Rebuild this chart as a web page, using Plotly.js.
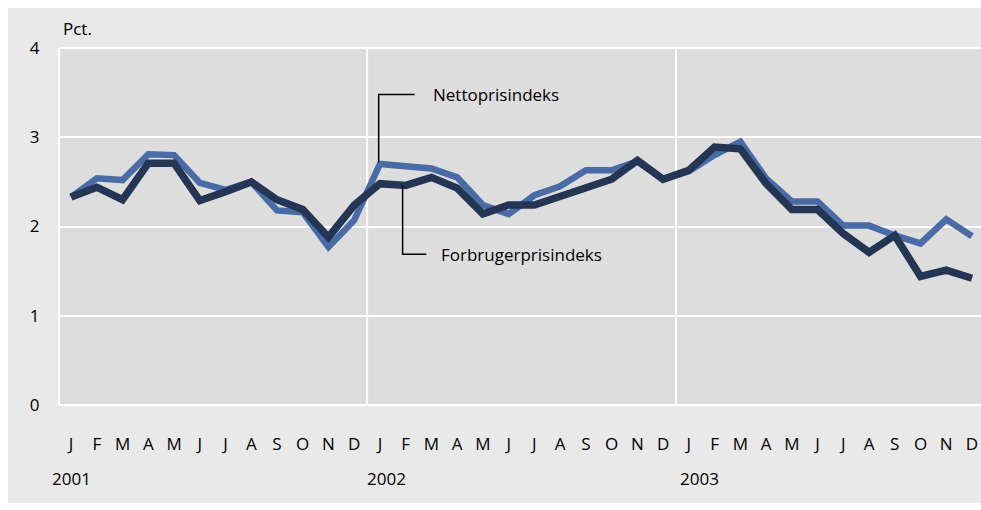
<!DOCTYPE html>
<html><head><meta charset="utf-8">
<script src="https://cdn.plot.ly/plotly-3.0.1.min.js"></script>
<style>html,body{margin:0;padding:0;background:#fff;}#chart{width:981px;height:510px;}</style>
</head><body><div id="chart"></div>
<script>
const months = ["J","F","M","A","M","J","J","A","S","O","N","D"];
const years = ["2001","2002","2003"];
const nettoprisindeks = [2.33,2.54,2.52,2.81,2.80,2.49,2.41,2.50,2.18,2.16,1.77,2.07,
                         2.70,2.68,2.65,2.55,2.24,2.14,2.35,2.45,2.63,2.63,2.73,2.53,
                         2.62,2.80,2.95,2.54,2.28,2.28,2.01,2.01,1.90,1.81,2.08,1.89];
const forbrugerprisindeks = [2.33,2.44,2.30,2.71,2.71,2.29,2.39,2.50,2.30,2.19,1.88,2.24,
                             2.48,2.46,2.55,2.43,2.14,2.24,2.24,2.33,2.43,2.53,2.74,2.53,
                             2.63,2.89,2.87,2.48,2.19,2.19,1.92,1.71,1.90,1.44,1.51,1.42];

const n = nettoprisindeks.length;
const xIdx = Array.from({length:n},(_,i)=>i);
const tickText = Array.from({length:n},(_,i)=>months[i%12]);
const font = "Open Sans, sans-serif";

const traces = [
  {x:xIdx, y:nettoprisindeks, type:"scatter", mode:"lines", name:"Nettoprisindeks",
   line:{color:"#4a6ca6", width:6.5}},
  {x:xIdx, y:forbrugerprisindeks, type:"scatter", mode:"lines", name:"Forbrugerprisindeks",
   line:{color:"#243654", width:7.5}}
];

const shapes = [
  {type:"rect", xref:"paper", yref:"paper", x0:-0.0565, x1:1.02, y0:-0.2745, y1:1.112,
   fillcolor:"#e9e9e9", line:{width:0}, layer:"below"},
  {type:"rect", xref:"paper", yref:"paper", x0:0, x1:1.02, y0:0, y1:1,
   fillcolor:"#dddddd", line:{width:0}, layer:"below"},
  {type:"line", xref:"x", yref:"paper", x0:11.5, x1:11.5, y0:0, y1:1, line:{color:"#ffffff", width:2}, layer:"below"},
  {type:"line", xref:"x", yref:"paper", x0:23.5, x1:23.5, y0:0, y1:1, line:{color:"#ffffff", width:2}, layer:"below"},
  {type:"line", xref:"paper", yref:"paper", x0:0, x1:1.02, y0:1, y1:1, line:{color:"#ffffff", width:2}, layer:"below"},
  {type:"line", xref:"paper", yref:"paper", x0:0, x1:1.02, y0:0, y1:0, line:{color:"#ffffff", width:2}, layer:"below"},
  // leader lines
  {type:"path", xref:"x", yref:"y", path:"M 11.95 2.72 L 11.95 3.48 L 13.35 3.48", line:{color:"#000", width:1.5}},
  {type:"path", xref:"x", yref:"y", path:"M 12.88 2.46 L 12.88 1.69 L 13.8 1.69", line:{color:"#000", width:1.5}}
];

const yearFont = {family:font, size:17, color:"#000"};
const annotations = [
  {text:"Pct.", xref:"paper", yref:"paper", x:0.001, y:1.055, xanchor:"left", yanchor:"middle", showarrow:false, font:{family:font, size:17, color:"#000"}},
  {text:"Nettoprisindeks", xref:"x", yref:"y", x:14.0, y:3.48, xanchor:"left", yanchor:"middle", showarrow:false, font:{family:font, size:17, color:"#000"}},
  {text:"Forbrugerprisindeks", xref:"x", yref:"y", x:14.3, y:1.69, xanchor:"left", yanchor:"middle", showarrow:false, font:{family:font, size:17, color:"#000"}},
  {text:years[0], xref:"paper", yref:"paper", x:-0.0105, y:-0.205, xanchor:"left", yanchor:"middle", showarrow:false, font:yearFont},
  {text:years[1], xref:"paper", yref:"paper", x:0.331, y:-0.205, xanchor:"left", yanchor:"middle", showarrow:false, font:yearFont},
  {text:years[2], xref:"paper", yref:"paper", x:0.6705, y:-0.205, xanchor:"left", yanchor:"middle", showarrow:false, font:yearFont}
];

const layout = {
  width:981, height:510,
  margin:{l:60, r:0, t:48, b:105, pad:0},
  paper_bgcolor:"#ffffff",
  plot_bgcolor:"rgba(0,0,0,0)",
  showlegend:false,
  font:{family:font, size:17, color:"#000"},
  xaxis:{range:[-0.43,35.35], tickvals:xIdx, ticktext:tickText, showgrid:false, zeroline:false,
         ticks:"outside", ticklen:24, tickcolor:"rgba(0,0,0,0)", showline:false,
         tickfont:{family:font, size:17, color:"#000"}, fixedrange:true},
  yaxis:{range:[0,4], tickvals:[0,1,2,3,4], showgrid:true, gridcolor:"#ffffff", gridwidth:2,
         zeroline:false, showline:true, linecolor:"#ffffff", linewidth:2,
         ticks:"outside", ticklen:15, tickcolor:"rgba(0,0,0,0)",
         tickfont:{family:font, size:17, color:"#000"}, fixedrange:true},
  shapes:shapes,
  annotations:annotations
};

Plotly.newPlot("chart", traces, layout, {displayModeBar:false, staticPlot:true});
</script></body></html>
